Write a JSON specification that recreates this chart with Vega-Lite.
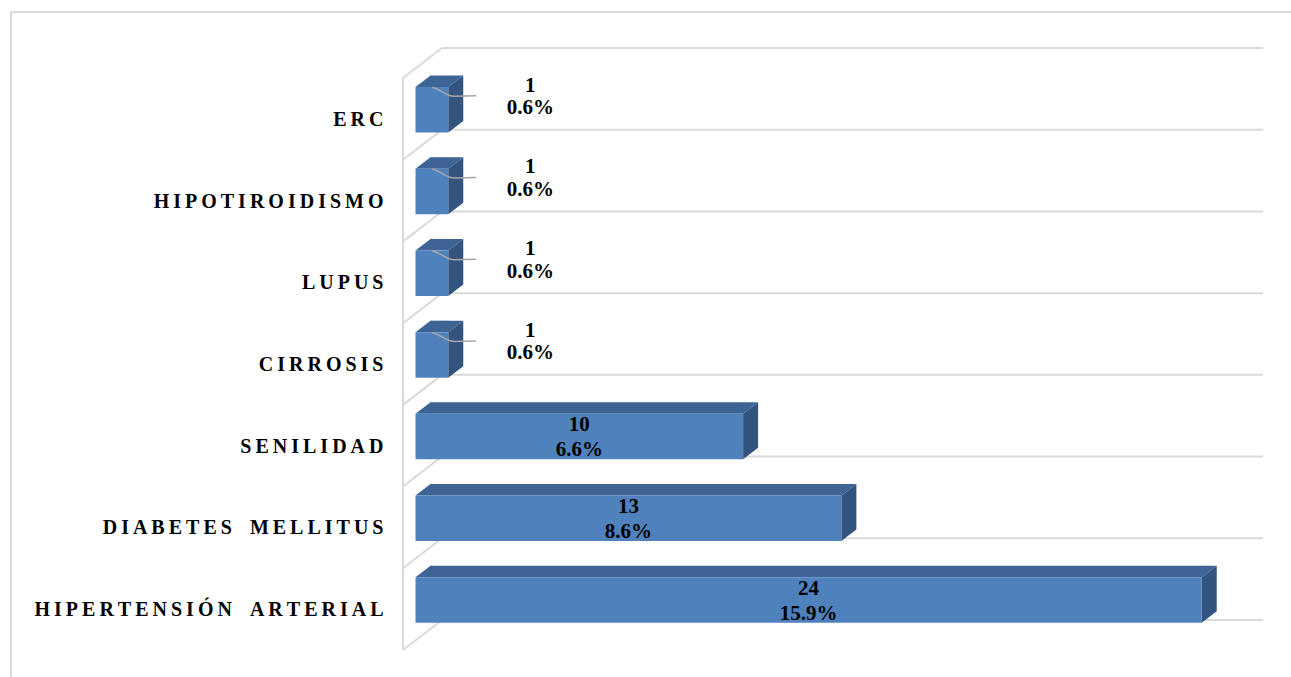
{
  "$schema": "https://vega.github.io/schema/vega-lite/v6.json",
  "width": 821,
  "height": 572,
  "autosize": {"type": "none"},
  "padding": {"left": 442, "top": 48, "right": 28, "bottom": 57},
  "background": "#ffffff",
  "config": {"view": {"stroke": null}},
  "data": {
    "values": [
      {"cat": "ERC", "n": 1, "pct": 0.006},
      {"cat": "HIPOTIROIDISMO", "n": 1, "pct": 0.006},
      {"cat": "LUPUS", "n": 1, "pct": 0.006},
      {"cat": "CIRROSIS", "n": 1, "pct": 0.006},
      {"cat": "SENILIDAD", "n": 10, "pct": 0.066},
      {"cat": "DIABETES MELLITUS", "n": 13, "pct": 0.086},
      {"cat": "HIPERTENSIÓN ARTERIAL", "n": 24, "pct": 0.159}
    ]
  },
  "encoding": {
    "y": {
      "field": "cat",
      "type": "nominal",
      "scale": {
        "domain": ["ERC", "HIPOTIROIDISMO", "LUPUS", "CIRROSIS", "SENILIDAD", "DIABETES MELLITUS", "HIPERTENSIÓN ARTERIAL"],
        "paddingInner": 0,
        "paddingOuter": 0
      },
      "axis": {
        "title": null,
        "domain": false,
        "ticks": false,
        "grid": false,
        "offset": 39,
        "labelPadding": 20,
        "labelOffset": 31,
        "labelFont": "Liberation Serif",
        "labelFontSize": 20,
        "labelFontWeight": "bold",
        "labelColor": "#000000",
        "labelLimit": 600,
        "labelExpr": "join(split(replace(datum.label, ' ', '\u2002'), ''), '\u2009')"
      }
    }
  },
  "layer": [
    {
      "mark": {"type": "rule", "color": "#D9D9D9", "strokeWidth": 2},
      "encoding": {"y": {"field": "cat", "type": "nominal", "bandPosition": 0}}
    },
    {
      "transform": [{"filter": "datum.cat === 'HIPERTENSIÓN ARTERIAL'"}],
      "mark": {"type": "rule", "color": "#D9D9D9", "strokeWidth": 2},
      "encoding": {"y": {"field": "cat", "type": "nominal", "bandPosition": 1}}
    },
    {
      "mark": {"type": "point", "shape": "M0,0 L-39,30 L-39,111.714", "size": 4, "filled": false, "color": "#D9D9D9", "strokeWidth": 2, "opacity": 1},
      "encoding": {"x": {"value": 0}, "y": {"field": "cat", "type": "nominal", "bandPosition": 0}}
    },
    {
      "transform": [{"filter": "datum.cat === 'HIPERTENSIÓN ARTERIAL'"}],
      "mark": {"type": "point", "shape": "M0,0 L-39,30", "size": 4, "filled": false, "color": "#D9D9D9", "strokeWidth": 2, "opacity": 1},
      "encoding": {"x": {"value": 0}, "y": {"field": "cat", "type": "nominal", "bandPosition": 1}}
    },
    {
      "mark": {"type": "bar", "color": "#3D6494", "height": 11.5, "yOffset": -7.6, "x2Offset": 15},
      "encoding": {
        "x": {"field": "n", "type": "quantitative", "scale": {"domain": [0.809, 25.87], "zero": false, "nice": false}, "axis": null},
        "x2": {"datum": 0}
      }
    },
    {
      "mark": {"type": "point", "shape": "M0,-22.75 L15,-34.25 L15.6,-34.25 L15.6,-22.75 Z", "size": 4, "filled": true, "color": "#3D6494", "strokeWidth": 0, "opacity": 1, "yOffset": 20.9},
      "encoding": {
        "x": {"datum": 0, "type": "quantitative", "scale": {"domain": [0.809, 25.87], "zero": false, "nice": false}, "axis": null}
      }
    },
    {
      "mark": {"type": "point", "shape": "M-0.6,-22.75 L-0.6,-34.25 L15,-34.25 L0,-22.75 Z", "size": 4, "filled": true, "color": "#3D6494", "strokeWidth": 0, "opacity": 1, "yOffset": 20.9},
      "encoding": {
        "x": {"field": "n", "type": "quantitative", "scale": {"domain": [0.809, 25.87], "zero": false, "nice": false}, "axis": null}
      }
    },
    {
      "mark": {"type": "point", "shape": "M0,-22.75 L15,-34.25 L15,11.25 L0,22.75 Z", "size": 4, "filled": true, "color": "#33547F", "strokeWidth": 0, "opacity": 1, "yOffset": 20.9},
      "encoding": {
        "x": {"field": "n", "type": "quantitative", "scale": {"domain": [0.809, 25.87], "zero": false, "nice": false}, "axis": null}
      }
    },
    {
      "mark": {"type": "bar", "color": "#4F81BD", "height": 45.5, "yOffset": 20.9},
      "encoding": {
        "x": {"field": "n", "type": "quantitative", "scale": {"domain": [0.809, 25.87], "zero": false, "nice": false}, "axis": null},
        "x2": {"datum": 0}
      }
    },
    {
      "transform": [{"filter": "datum.n < 5"}],
      "mark": {"type": "point", "shape": "M-16,-22.5 C-6,-20 -3,-13.5 6,-13.5 L28,-14", "size": 4, "filled": false, "color": "#A6A6A6", "strokeWidth": 1.5, "opacity": 1, "yOffset": 20.9},
      "encoding": {
        "x": {"field": "n", "type": "quantitative", "scale": {"domain": [0.809, 25.87], "zero": false, "nice": false}, "axis": null}
      }
    },
    {
      "transform": [{"filter": "datum.n < 5"}],
      "mark": {"type": "text", "font": "Liberation Serif", "fontSize": 21, "fontWeight": "bold", "color": "#000000", "dx": 82, "yOffset": -3.1},
      "encoding": {
        "x": {"field": "n", "type": "quantitative", "scale": {"domain": [0.809, 25.87], "zero": false, "nice": false}, "axis": null},
        "text": {"field": "n", "type": "quantitative"}
      }
    },
    {
      "transform": [{"filter": "datum.n < 5"}],
      "mark": {"type": "text", "font": "Liberation Serif", "fontSize": 21, "fontWeight": "bold", "color": "#000000", "dx": 82, "yOffset": 19.4},
      "encoding": {
        "x": {"field": "n", "type": "quantitative", "scale": {"domain": [0.809, 25.87], "zero": false, "nice": false}, "axis": null},
        "text": {"field": "pct", "type": "quantitative", "format": ".1%"}
      }
    },
    {
      "transform": [{"filter": "datum.n >= 5"}],
      "mark": {"type": "text", "font": "Liberation Serif", "fontSize": 21, "fontWeight": "bold", "color": "#000000", "yOffset": 9.5},
      "encoding": {
        "x": {"field": "n", "type": "quantitative", "scale": {"domain": [1.618, 51.74], "zero": false, "nice": false}, "axis": null},
        "text": {"field": "n", "type": "quantitative"}
      }
    },
    {
      "transform": [{"filter": "datum.n >= 5"}],
      "mark": {"type": "text", "font": "Liberation Serif", "fontSize": 21, "fontWeight": "bold", "color": "#000000", "yOffset": 34.5},
      "encoding": {
        "x": {"field": "n", "type": "quantitative", "scale": {"domain": [1.618, 51.74], "zero": false, "nice": false}, "axis": null},
        "text": {"field": "pct", "type": "quantitative", "format": ".1%"}
      }
    },
    {
      "data": {"values": [{}]},
      "mark": {"type": "rule", "color": "#D9D9D9", "strokeWidth": 2},
      "encoding": {"x": {"value": -431}, "x2": {"value": 849}, "y": {"value": -36}}
    },
    {
      "data": {"values": [{}]},
      "mark": {"type": "rule", "color": "#D9D9D9", "strokeWidth": 2},
      "encoding": {"x": {"value": -431}, "y": {"value": -36}, "y2": {"value": 629}}
    }
  ],
  "resolve": {"scale": {"x": "independent"}}
}
